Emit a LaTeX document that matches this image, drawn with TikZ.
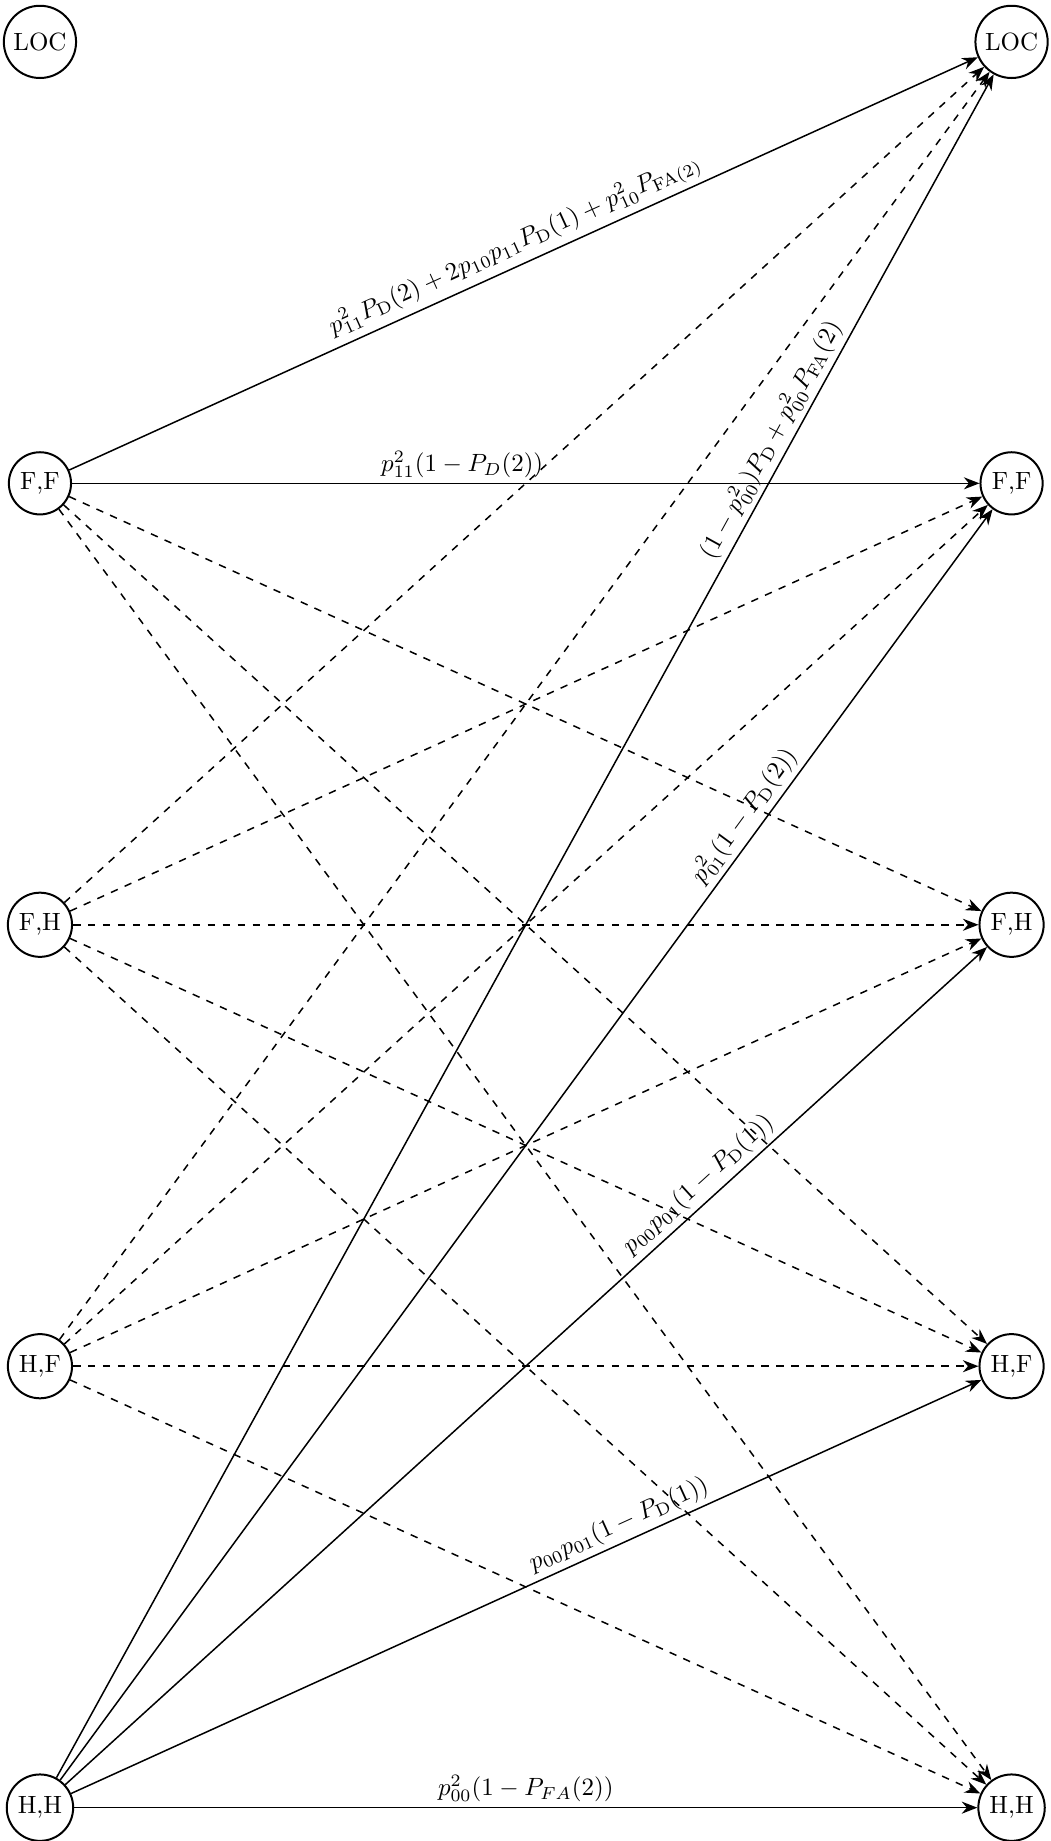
\documentclass[tikz,border=0pt]{standalone}
\usepackage{amsmath}
\usetikzlibrary{arrows.meta}
\tikzset{
  stnode/.style={circle, draw, thick, inner sep=2.5pt},
  soltr/.style={-{Stealth[length=2.2mm,width=1.7mm]}, semithick},
  dashtr/.style={soltr, dashed},
  lbl/.style={sloped, above, inner sep=2pt},
}

\begin{document}
\begin{tikzpicture}
\useasboundingbox (-0.563,0.59) rectangle (14.24,-25.35);
  % left column (current state)
  \node[stnode] (locL) at (0,0)      {LOC};
  \node[stnode] (ffL)  at (0,-6.22)  {F,F};
  \node[stnode] (fhL)  at (0,-12.44) {F,H};
  \node[stnode] (hfL)  at (0,-18.66) {H,F};
  \node[stnode] (hhL)  at (0,-24.88) {H,H};
  % right column (next state)
  \node[stnode] (locR) at (13.69,0)      {LOC};
  \node[stnode] (ffR)  at (13.69,-6.22)  {F,F};
  \node[stnode] (fhR)  at (13.69,-12.44) {F,H};
  \node[stnode] (hfR)  at (13.69,-18.66) {H,F};
  \node[stnode] (hhR)  at (13.69,-24.88) {H,H};
  % transitions from F,F
  \draw[soltr] (ffL) -- node[lbl, pos=0.5]
    {$p_{11}^2P_\mathrm{D}(2)+2p_{10}p_{11}P_\mathrm{D}(1)+p_{10}^2P_{\mathrm{FA}(2)}$} (locR);
  \draw[soltr] (ffL) -- node[lbl, pos=0.43] {$p_{11}^2(1-P_D(2))$} (ffR);
  \foreach \t in {fh,hf,hh}
    \draw[dashtr] (ffL) -- (\t R);
  % transitions from F,H and H,F
  \foreach \s in {fh,hf}
    \foreach \t in {loc,ff,fh,hf,hh}
      \draw[dashtr] (\s L) -- (\t R);
  % transitions from H,H
  \draw[soltr] (hhL) -- node[lbl, pos=0.78]
    {$(1-p_{00}^2)P_\mathrm{D}+p_{00}^2P_\mathrm{FA}(2)$} (locR);
  \draw[soltr] (hhL) -- node[lbl, pos=0.75] {$p_{01}^2(1-P_\mathrm{D}(2))$} (ffR);
  \draw[soltr] (hhL) -- node[lbl, pos=0.70] {$p_{00}p_{01}(1-P_\mathrm{D}(1))$} (fhR);
  \draw[soltr] (hhL) -- node[lbl, pos=0.61] {$p_{00}p_{01}(1-P_\mathrm{D}(1))$} (hfR);
  \draw[soltr] (hhL) -- node[lbl, pos=0.5] {$p_{00}^2(1-P_{FA}(2))$} (hhR);
\end{tikzpicture}
\end{document}
